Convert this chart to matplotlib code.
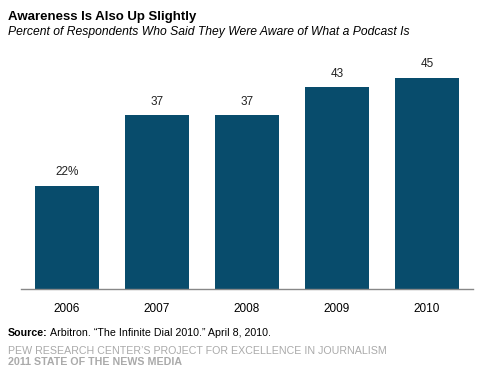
import matplotlib
matplotlib.use('Agg')
import matplotlib.pyplot as plt

years = ["2006", "2007", "2008", "2009", "2010"]
aware = [22, 37, 37, 43, 45]
value_labels = ["22%", "37", "37", "43", "45"]

plt.rcParams['font.family'] = ['Liberation Sans', 'DejaVu Sans']

fig = plt.figure(figsize=(4.8, 3.75), dpi=100)
ax = fig.add_axes([21/480, 86/375, 452/480, 234.5/375])

bars = ax.bar(range(len(years)), aware, width=0.71, color='#084c6c')
for b, lab in zip(bars, value_labels):
    ax.text(b.get_x() + b.get_width()/2, b.get_height() + 1.6, lab,
            ha='center', va='bottom', fontsize=8.5, color='#222222')

ax.set_xlim(-0.51, 4.51)
ax.set_ylim(0, 50)
ax.set_xticks(range(len(years)))
ax.set_xticklabels(years, fontsize=8.5)
ax.tick_params(axis='x', length=0, pad=10)
ax.set_yticks([])
for s in ['top', 'right', 'left']:
    ax.spines[s].set_visible(False)
ax.spines['bottom'].set_color('#888888')
ax.spines['bottom'].set_linewidth(1)

# titles
fig.text(8/480, 1 - 17/375, "Awareness Is Also Up Slightly", fontsize=9.5,
         fontweight='bold', va='center', ha='left')
fig.text(8/480, 1 - 32/375, "Percent of Respondents Who Said They Were Aware of What a Podcast Is",
         fontsize=8.7, style='italic', va='center', ha='left')

# source + footer
t1 = fig.text(8/480, 1 - 333/375, "Source:", fontsize=7.7, fontweight='bold', va='center', ha='left')
fig.canvas.draw()
bb = t1.get_window_extent()
fig.text((bb.x1 + 2)/480, 1 - 333/375, "Arbitron. \u201cThe Infinite Dial 2010.\u201d April 8, 2010.",
         fontsize=7.7, va='center', ha='left')
fig.text(8/480, 1 - 351/375, "PEW RESEARCH CENTER\u2019S PROJECT FOR EXCELLENCE IN JOURNALISM",
         fontsize=7.7, color='#aaaaaa', va='center', ha='left')
fig.text(8/480, 1 - 362/375, "2011 STATE OF THE NEWS MEDIA",
         fontsize=7.7, color='#aaaaaa', fontweight='bold', va='center', ha='left')

fig.savefig("out.png", dpi=100)
